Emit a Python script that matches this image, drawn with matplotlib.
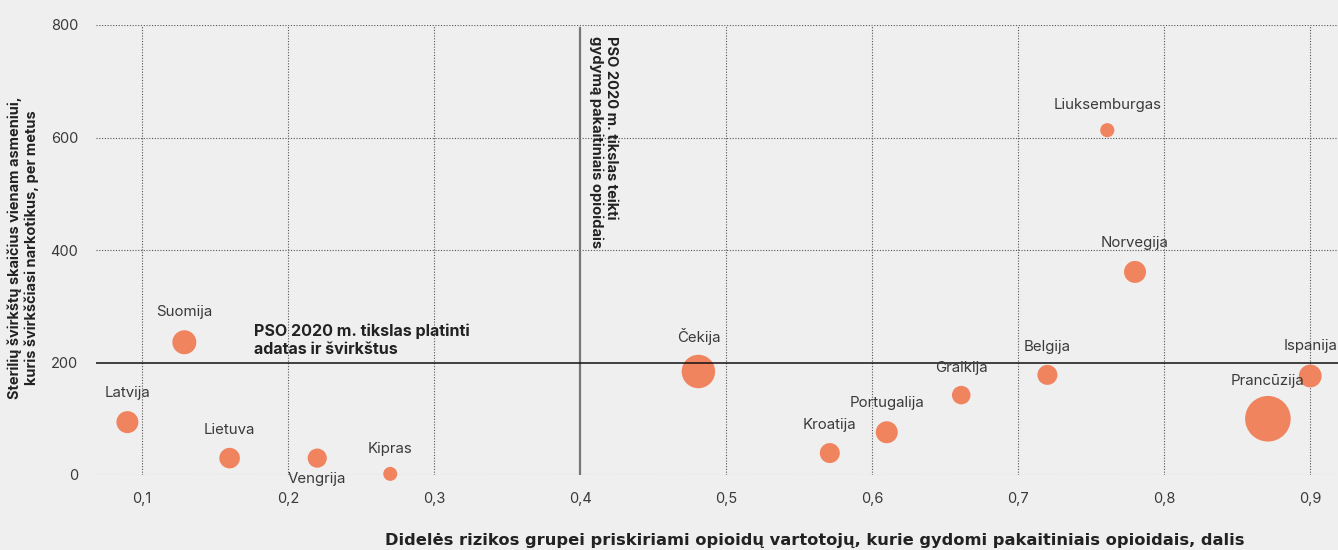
import matplotlib
matplotlib.use("Agg")
import matplotlib.pyplot as plt
import numpy as np

# ---- data ----
countries = ["Latvija", "Suomija", "Lietuva", "Vengrija", "Kipras", "Čekija",
             "Kroatija", "Portugalija", "Graikija", "Belgija", "Liuksemburgas",
             "Norvegija", "Prancūzija", "Ispanija"]
ost_share = [0.09, 0.129, 0.16, 0.22, 0.27, 0.481, 0.571, 0.61, 0.661, 0.72,
             0.761, 0.78, 0.871, 0.90]
syringes = [94, 236, 30, 30, 2, 184, 39, 76, 142, 178, 613, 361, 100, 176]
bubble_weight = [121, 144, 106, 92, 49, 280, 100, 121, 86, 100, 50, 121, 520, 130]
xticks = [0.1, 0.2, 0.3, 0.4, 0.5, 0.6, 0.7, 0.8, 0.9]
xticklabels = ["0,1", "0,2", "0,3", "0,4", "0,5", "0,6", "0,7", "0,8", "0,9"]
yticks = [0, 200, 400, 600, 800]
target_syringes = 200
target_ost = 0.4

xlabel_text = "Didelės rizikos grupei priskiriami opioidų vartotojų, kurie gydomi pakaitiniais opioidais, dalis"
ylabel_lines = ["Sterilių švirkštų skaičius vienam asmeniui,",
                "kuris švirkščiasi narkotikus, per metus"]
h_note_lines = ["PSO 2020 m. tikslas platinti", "adatas ir švirkštus"]
v_note_lines = ["PSO 2020 m. tikslas teikti", "gydymą pakaitiniais opioidais"]

# ---- style ----
plt.rcParams['font.family'] = ['Inter', 'DejaVu Sans']
BG = "#efefef"
DOT = "#f0845f"
TXT = "#3a3a3a"

fig = plt.figure(figsize=(13.38, 5.5), dpi=100, facecolor=BG)
renderer = fig.canvas.get_renderer()


def fit_size(text, target_px, family, weight="bold", start=10.0):
    t = fig.text(0, 0, text, fontsize=start, family=family, fontweight=weight)
    wpx = t.get_window_extent(renderer=renderer).width
    t.remove()
    return start * target_px / wpx


ax = fig.add_axes([96/1338, 1-475/550, 1-96/1338, (475-25)/550])
ax.set_facecolor(BG)
ax.set_xlim(0.0685, 0.919)
ax.set_ylim(0, 800)
for s in ax.spines.values():
    s.set_visible(False)

# grid
for xv in xticks:
    if xv == target_ost:
        continue
    ax.axvline(xv, color="#555555", lw=0.8, ls=(0, (1, 1.5)), zorder=1)
for yv in yticks:
    if yv == target_syringes:
        continue
    ax.axhline(yv, color="#555555", lw=0.8, ls=(0, (1, 1.5)), zorder=1)

ax.axhline(target_syringes, color="#111111", lw=1.1, zorder=4)
ax.plot([target_ost, target_ost], [0, 795], color="#777777", lw=1.6, zorder=2)

# bubbles: weight ~ radius^2 (px); convert to points^2
w = np.array(bubble_weight, dtype=float)
diam_pt = 2*np.sqrt(w)*72/100
ax.scatter(ost_share, syringes, s=diam_pt**2, color=DOT, edgecolors="none",
           zorder=3, clip_on=False)

# labels
offsets = {"Vengrija": (0, -10, "top"), "Čekija": (0, 19, "bottom"),
           "Prancūzija": (0, 22, "bottom")}
for c, xv, yv, wv in zip(countries, ost_share, syringes, bubble_weight):
    dx, dy, va = offsets.get(c, (0, 13, "bottom"))
    if c not in offsets:
        dy = np.sqrt(wv)*0.72 + 8
    ax.annotate(c, (xv, yv), xytext=(dx, dy), textcoords="offset points",
                ha="center", va=va, fontsize=10.8, color=TXT, zorder=6)

fs_h = fit_size(h_note_lines[0], 216, ["Inter", "DejaVu Sans"])
ax.text(0.1765, 270, "\n".join(h_note_lines),
        fontsize=fs_h, fontweight="bold", color="#222222", va="top", ha="left",
        linespacing=1.25, zorder=6)
fs_v = fit_size(v_note_lines[1], 213, ["Inter", "DejaVu Sans"])
ax.text(0.4058, 780, "\n".join(v_note_lines),
        fontsize=fs_v, fontweight="bold", color="#222222", va="top", ha="left",
        rotation=270, linespacing=1.05, zorder=6)

# ticks
ax.set_xticks(xticks)
ax.set_xticklabels(xticklabels)
ax.set_yticks(yticks)
ax.tick_params(axis="both", length=0, labelsize=10.5, labelcolor=TXT)
ax.tick_params(axis="x", pad=12)
ax.tick_params(axis="y", pad=13)

fs_x = fit_size(xlabel_text, 854, ["DejaVu Sans"])
fig.text(815/1338, 1-541/550, xlabel_text,
         ha="center", va="center", fontsize=fs_x, fontweight="bold",
         family=["DejaVu Sans"], color="#222222")
fs_y = fit_size(ylabel_lines[0], 304, ["Inter", "DejaVu Sans"])
fig.text(23/1338, 1-248/550, "\n".join(ylabel_lines),
         ha="center", va="center", rotation=90, fontsize=fs_y, fontweight="bold",
         color="#222222", linespacing=1.2)

fig.savefig("out.png", dpi=100, facecolor=BG)
